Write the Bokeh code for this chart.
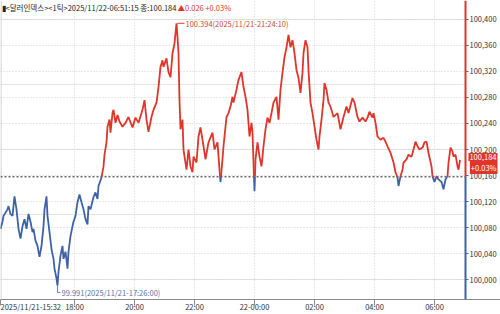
import numpy as np
from bokeh.plotting import figure
from bokeh.models import (Range1d, FixedTicker, Label, BoxAnnotation, Grid, AllLabels,
                          LinearAxis, CustomJSTickFormatter)
from bokeh.embed import file_html
from bokeh.resources import INLINE
from bokeh.core.properties import value

# ---------------- data (minutes since 2025/11/21 15:32, price) ----------------
minutes = [0, 4, 6, 14, 16, 20, 24, 28, 32, 36, 40, 44, 48, 52, 56, 60, 64, 66, 70, 74,
           78, 82, 86, 88, 92, 94, 98, 102, 106, 108, 112, 114, 116, 120, 124, 126, 130, 134, 136, 140,
           144, 146, 150, 154, 158, 162, 166, 170, 174, 176, 180, 186, 190, 194, 196, 202, 206, 208, 212, 214,
           218, 220, 224, 226, 230, 234, 238, 244, 250, 256, 264, 270, 276, 284, 288, 292, 296, 302, 306, 312,
           316, 320, 324, 326, 332, 336, 340, 344, 348, 352, 354, 356, 358, 360, 364, 366, 372, 376, 380, 384,
           386, 392, 396, 400, 406, 410, 416, 424, 428, 434, 438, 440, 444, 446, 452, 456, 460, 464, 466, 472,
           476, 482, 486, 490, 494, 498, 502, 504, 506, 508, 510, 514, 518, 522, 526, 530, 534, 538, 542, 546,
           552, 556, 560, 564, 568, 572, 576, 580, 584, 588, 592, 596, 600, 604, 606, 610, 614, 616, 620, 624,
           628, 632, 636, 638, 642, 646, 648, 652, 656, 660, 666, 674, 680, 686, 692, 696, 704, 708, 714, 718,
           724, 730, 734, 738, 744, 746, 750, 754, 760, 766, 770, 774, 780, 786, 790, 794, 796, 800, 804, 806,
           812, 816, 822, 826, 830, 834, 838, 844, 848, 852, 856, 862, 864, 868, 872, 876, 882, 886, 890, 894,
           896, 900, 904, 906, 910, 914, 916, 919]
price = [100.078, 100.089, 100.098, 100.108, 100.113, 100.101, 100.098, 100.128, 100.108, 100.078,
         100.063, 100.082, 100.093, 100.078, 100.101, 100.089, 100.073, 100.078, 100.060, 100.052,
         100.035, 100.052, 100.082, 100.108, 100.128, 100.098, 100.073, 100.047, 100.032, 100.017,
         100.002, 99.991, 100.012, 100.037, 100.052, 100.032, 100.043, 100.017, 100.043, 100.067,
         100.082, 100.089, 100.098, 100.119, 100.131, 100.119, 100.108, 100.093, 100.085, 100.113,
         100.108, 100.127, 100.134, 100.124, 100.144, 100.157, 100.174, 100.192, 100.211, 100.235,
         100.246, 100.226, 100.256, 100.261, 100.241, 100.253, 100.243, 100.235, 100.241, 100.250,
         100.234, 100.249, 100.241, 100.261, 100.276, 100.246, 100.227, 100.250, 100.261, 100.272,
         100.296, 100.327, 100.337, 100.327, 100.340, 100.319, 100.311, 100.348, 100.363, 100.394,
         100.373, 100.348, 100.276, 100.231, 100.246, 100.200, 100.169, 100.200, 100.174, 100.165,
         100.189, 100.180, 100.220, 100.234, 100.205, 100.185, 100.211, 100.226, 100.200, 100.211,
         100.169, 100.150, 100.185, 100.205, 100.250, 100.256, 100.266, 100.281, 100.272, 100.292,
         100.307, 100.319, 100.296, 100.281, 100.261, 100.220, 100.241, 100.226, 100.180, 100.136,
         100.185, 100.211, 100.189, 100.174, 100.205, 100.231, 100.249, 100.241, 100.256, 100.272,
         100.281, 100.246, 100.292, 100.318, 100.342, 100.357, 100.376, 100.357, 100.368, 100.348,
         100.322, 100.310, 100.287, 100.318, 100.348, 100.368, 100.357, 100.322, 100.272, 100.256,
         100.235, 100.215, 100.200, 100.220, 100.246, 100.276, 100.302, 100.292, 100.272, 100.266,
         100.250, 100.256, 100.231, 100.250, 100.266, 100.256, 100.279, 100.272, 100.250, 100.243,
         100.249, 100.243, 100.249, 100.258, 100.249, 100.256, 100.241, 100.220, 100.215, 100.218,
         100.212, 100.205, 100.195, 100.180, 100.165, 100.157, 100.144, 100.159, 100.169, 100.180,
         100.185, 100.192, 100.189, 100.200, 100.212, 100.205, 100.200, 100.203, 100.211, 100.212,
         100.195, 100.174, 100.159, 100.150, 100.159, 100.154, 100.150, 100.139, 100.154, 100.159,
         100.180, 100.203, 100.197, 100.189, 100.192, 100.174, 100.169, 100.184]

prev_close = 100.158
last_price = 100.184
header_main = "▮<달러인덱스><1틱>2025/11/22-06:51:15 종:100.184"
header_change = "▲0.026 +0.03%"
last_pct = "+0.03%"
high_time = "2025/11/21-21:24:10"
low_time = "2025/11/21-17:26:00"

y_ticks = [100.000, 100.040, 100.080, 100.120, 100.160, 100.200,
           100.240, 100.280, 100.320, 100.360, 100.400]
x_tick_clock = ["15:32", "18:00", "20:00", "22:00", "00:00", "02:00", "04:00", "06:00"]
x_tick_labels = ["2025/11/21-15:32", "18:00", "20:00", "22:00", "22-00:00", "02:00", "04:00", "06:00"]

# ---------------- styles ----------------
RED = "#e0352b"
BLUE = "#3d62a6"
FONT = "Noto Sans CJK KR"
FS = "7.5px"

def clock_to_min(s):
    h, m = map(int, s.split(":"))
    return ((h * 60 + m) - (15 * 60 + 32)) % 1440

x_ticks = [clock_to_min(s) for s in x_tick_clock]

W, H = 500, 314
FRAME_H = 301
X0, XEND = 0, 1000          # 2 minutes per pixel over the full 500 px width
X1 = 930                    # price axis position
Y0, Y1 = 99.9695, 100.4290
px_y = (Y1 - Y0) / FRAME_H
px_x = (XEND - X0) / W

p = figure(width=W, height=H, x_range=Range1d(X0, XEND), y_range=Range1d(Y0, Y1),
           output_backend="svg", toolbar_location=None, y_axis_location=None,
           min_border=0, min_border_bottom=13, min_border_top=0)
p.outline_line_color = None
p.background_fill_color = "white"

# x axis
xa = p.xaxis[0]
xa.ticker = FixedTicker(ticks=x_ticks)
xa.major_label_overrides = {t: lab for t, lab in zip(x_ticks, x_tick_labels)}
xa.axis_line_color = "#8a8a8a"
xa.major_tick_line_color = "#8a8a8a"
xa.major_tick_in = 0
xa.major_tick_out = 6
xa.minor_tick_line_color = None
xa.major_label_standoff = -5
xa.major_label_text_align = "left"
xa.major_label_text_font = FONT
xa.major_label_text_font_size = FS
xa.major_label_text_color = "#333333"
p.xgrid[0].ticker = FixedTicker(ticks=x_ticks)

# y grid + price axis fixed at X1 (inside the frame)
yticker = FixedTicker(ticks=y_ticks)
ygrid = Grid(dimension=1, ticker=yticker)
p.add_layout(ygrid)
ya = LinearAxis(ticker=yticker, fixed_location=X1, major_label_policy=AllLabels())
ya.formatter = CustomJSTickFormatter(code="return tick.toFixed(3).replace('.', ',');")
ya.axis_line_color = None
ya.major_tick_line_color = "#666666"
ya.major_tick_in = 0
ya.major_tick_out = 3
ya.minor_tick_line_color = None
ya.major_label_standoff = 1
ya.major_label_text_font = FONT
ya.major_label_text_font_size = FS
ya.major_label_text_color = "#333333"
p.add_layout(ya, "right")

for g in (p.xgrid[0], ygrid):
    g.grid_line_color = "#d2d2d2"
    g.grid_line_dash = "1 2"
    g.grid_line_width = 1

# white area right of the price axis (hides grid there)
p.add_layout(BoxAnnotation(left=X1, right=XEND, bottom=Y0, top=Y1, fill_color="white",
                           fill_alpha=1, line_color=None, level="underlay"))
# left border
p.add_layout(BoxAnnotation(left=X0, right=X0 + px_x, bottom=Y0, top=Y1, fill_color="#c8c8c8",
                           fill_alpha=1, line_color=None, level="underlay"))

# baseline (previous close) up to the axis
p.line([X0, X1], [prev_close, prev_close], line_color="#222222", line_dash="2 2", line_width=1)

# split the price line into red (above prev close) / blue (below)
t = np.array(minutes, dtype=float)
v = np.array(price, dtype=float)
red_xs, red_ys, blue_xs, blue_ys = [], [], [], []
cx, cy = [t[0]], [v[0]]
cur_up = v[0] >= prev_close
for i in range(1, len(t)):
    up = v[i] >= prev_close
    if up != cur_up:
        f = (prev_close - v[i - 1]) / (v[i] - v[i - 1])
        xc = t[i - 1] + f * (t[i] - t[i - 1])
        cx.append(xc); cy.append(prev_close)
        (red_xs if cur_up else blue_xs).append(cx)
        (red_ys if cur_up else blue_ys).append(cy)
        cx, cy = [xc], [prev_close]
        cur_up = up
    cx.append(t[i]); cy.append(v[i])
(red_xs if cur_up else blue_xs).append(cx)
(red_ys if cur_up else blue_ys).append(cy)

p.multi_line(red_xs, red_ys, line_color=RED, line_width=1.8)
p.multi_line(blue_xs, blue_ys, line_color=BLUE, line_width=1.8)

# high / low markers
i_hi = int(np.argmax(v)); i_lo = int(np.argmin(v))
t_hi, v_hi = t[i_hi], v[i_hi]
t_lo, v_lo = t[i_lo], v[i_lo]
p.segment(x0=[t_hi + px_x], y0=[v_hi], x1=[t_hi + 8 * px_x], y1=[v_hi], line_color=RED, line_width=1)
p.text(x=[t_hi + 8 * px_x], y=[v_hi], text=[f"{v_hi:.3f}({high_time})"],
       text_font=value(FONT), text_font_size=FS, text_color="#d0463a",
       text_baseline="middle", text_align="left", x_offset=1)
p.segment(x0=[t_lo], y0=[v_lo], x1=[t_lo], y1=[v_lo - 7 * px_y], line_color="#6f86b5", line_width=1)
p.segment(x0=[t_lo], y0=[v_lo - 7 * px_y], x1=[t_lo + 3 * px_x], y1=[v_lo - 7 * px_y],
          line_color="#6f86b5", line_width=1)
p.text(x=[t_lo + 3 * px_x], y=[v_lo - 7 * px_y], text=[f"{v_lo:.3f}({low_time})"],
       text_font=value(FONT), text_font_size=FS, text_color="#5a73a8",
       text_baseline="middle", text_align="left", x_offset=1)

# coloured price-axis line
p.add_layout(BoxAnnotation(left=X1 - px_x, right=X1 + px_x, bottom=prev_close, top=Y1,
                           fill_color=RED, fill_alpha=1, line_color=None))
p.add_layout(BoxAnnotation(left=X1 - px_x, right=X1 + px_x, bottom=Y0, top=prev_close,
                           fill_color=BLUE, fill_alpha=1, line_color=None))

# last value tag
tag_style = dict(text_align="right", text_font=FONT, text_font_size=FS, text_color="white",
                 background_fill_color=RED)
p.add_layout(Label(x=X1, y=last_price, x_offset=32, y_offset=-1,
                   text=f"{last_price:.3f}".replace(".", ","), text_baseline="bottom",
                   padding=1, **tag_style))
p.add_layout(Label(x=X1, y=last_price, x_offset=32, y_offset=-1,
                   text=last_pct, text_baseline="top", padding=1, **tag_style))

# header
p.add_layout(Label(x=X0, y=Y1, x_offset=1, y_offset=-1, text=header_main,
                   text_baseline="top", text_align="left",
                   text_font=FONT, text_font_size=FS, text_color="#222222"))
p.add_layout(Label(x=X0, y=Y1, x_offset=177, y_offset=-1, text=header_change,
                   text_baseline="top", text_align="left",
                   text_font=FONT, text_font_size=FS, text_color=RED))

open("out.html", "w").write(file_html(p, INLINE))
